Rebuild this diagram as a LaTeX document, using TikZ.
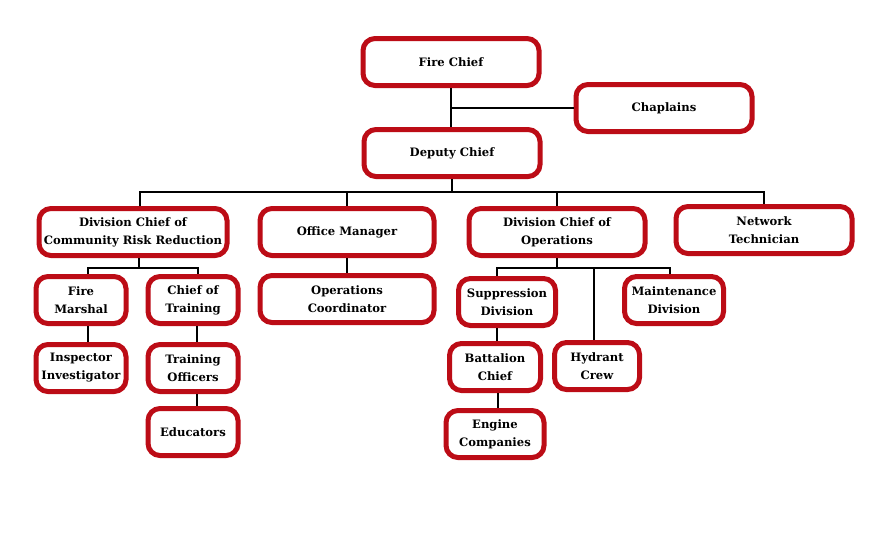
\documentclass[tikz,border=0pt]{standalone}
\usepackage{fontspec}
\setmainfont{DejaVu Serif}
\usetikzlibrary{positioning,calc}
\definecolor{firered}{RGB}{188,12,22}

\begin{document}
\begin{tikzpicture}[x=1pt,y=-1pt,
   box/.style={draw=firered,line width=5pt,rounded corners=12pt,fill=white,
     align=center,minimum height=47pt,inner sep=1pt,
     font=\fontsize{11.6}{18}\selectfont\bfseries},
   wide/.style={box,minimum width=176pt},
   small/.style={box,minimum width=90pt},
   link/.style={draw=black,line width=1.6pt}]
  \useasboundingbox (0,0) rectangle (878,547);
  % top
  \node[wide] (fc) at (451,62) {Fire Chief};
  \node[wide] (cp) at (664,108) {Chaplains};
  \node[wide] (dc) at (452,153) {Deputy Chief};
  % divisions
  \node[wide,minimum width=188pt] (crr) at (133,232) {Division Chief of\\Community Risk Reduction};
  \node[wide,minimum width=174pt] (om) at (347,232) {Office Manager};
  \node[wide] (ops) at (557,232) {Division Chief of\\Operations};
  \node[wide] (nt) at (764,230) {Network\\Technician};
  % community risk reduction
  \node[small] (fm) at (81,300) {Fire\\Marshal};
  \node[small] (ct) at (193,300) {Chief of\\Training};
  \node[small] (ii) at (81,368) {Inspector\\Investigator};
  \node[small] (to) at (193,368) {Training\\Officers};
  \node[small] (ed) at (193,432) {Educators};
  \node[wide,minimum width=174pt] (oc) at (347,299) {Operations\\Coordinator};
  % operations
  \node[small,minimum width=97pt] (sd) at (507,302) {Suppression\\Division};
  \node[small,minimum width=99pt] (md) at (674,300) {Maintenance\\Division};
  \node[small,minimum width=85pt] (hc) at (597,366) {Hydrant\\Crew};
  \node[small,minimum width=91pt] (bc) at (495,367) {Battalion\\Chief};
  \node[small,minimum width=98pt] (ec) at (495,434) {Engine\\Companies};

  % connectors
  \draw[link] (fc.south) -- (fc.south |- dc.north);
  \draw[link] (fc.south |- cp.west) -- (cp.west);
  \coordinate (bus) at ($(dc.south)+(0,13)$);
  \draw[link] (dc.south) -- (bus);
  \draw[link] ([xshift=7pt]crr.north) |- (bus) -| (nt.north);
  \draw[link] (om.north) -- (om.north |- bus);
  \draw[link] (ops.north) -- (ops.north |- bus);
  \coordinate (crrbus) at ($(crr.south)+(6,10)$);
  \draw[link] (crr.south -| crrbus) -- (crrbus);
  \draw[link] ([xshift=7pt]fm.north) |- (crrbus) -| ([xshift=5pt]ct.north);
  \draw[link] ([xshift=7pt]fm.south) -- ([xshift=7pt]ii.north);
  \draw[link] ([xshift=4pt]ct.south) -- ([xshift=4pt]to.north);
  \draw[link] ([xshift=4pt]to.south) -- ([xshift=4pt]ed.north);
  \draw[link] (om.south) -- (oc.north);
  \coordinate (opsbus) at ($(ops.south)+(0,10)$);
  \draw[link] (ops.south) -- (opsbus);
  \draw[link] ([xshift=-10pt]sd.north) |- (opsbus) -| ([xshift=-4pt]md.north);
  \draw[link] ([xshift=-3pt]hc.north) -- ([xshift=-3pt]hc.north |- opsbus);
  \draw[link] ([xshift=-10pt]sd.south) -- ([xshift=-10pt]sd.south |- bc.north);
  \draw[link] ([xshift=3pt]bc.south) -- ([xshift=3pt]bc.south |- ec.north);
\end{tikzpicture}
\end{document}
